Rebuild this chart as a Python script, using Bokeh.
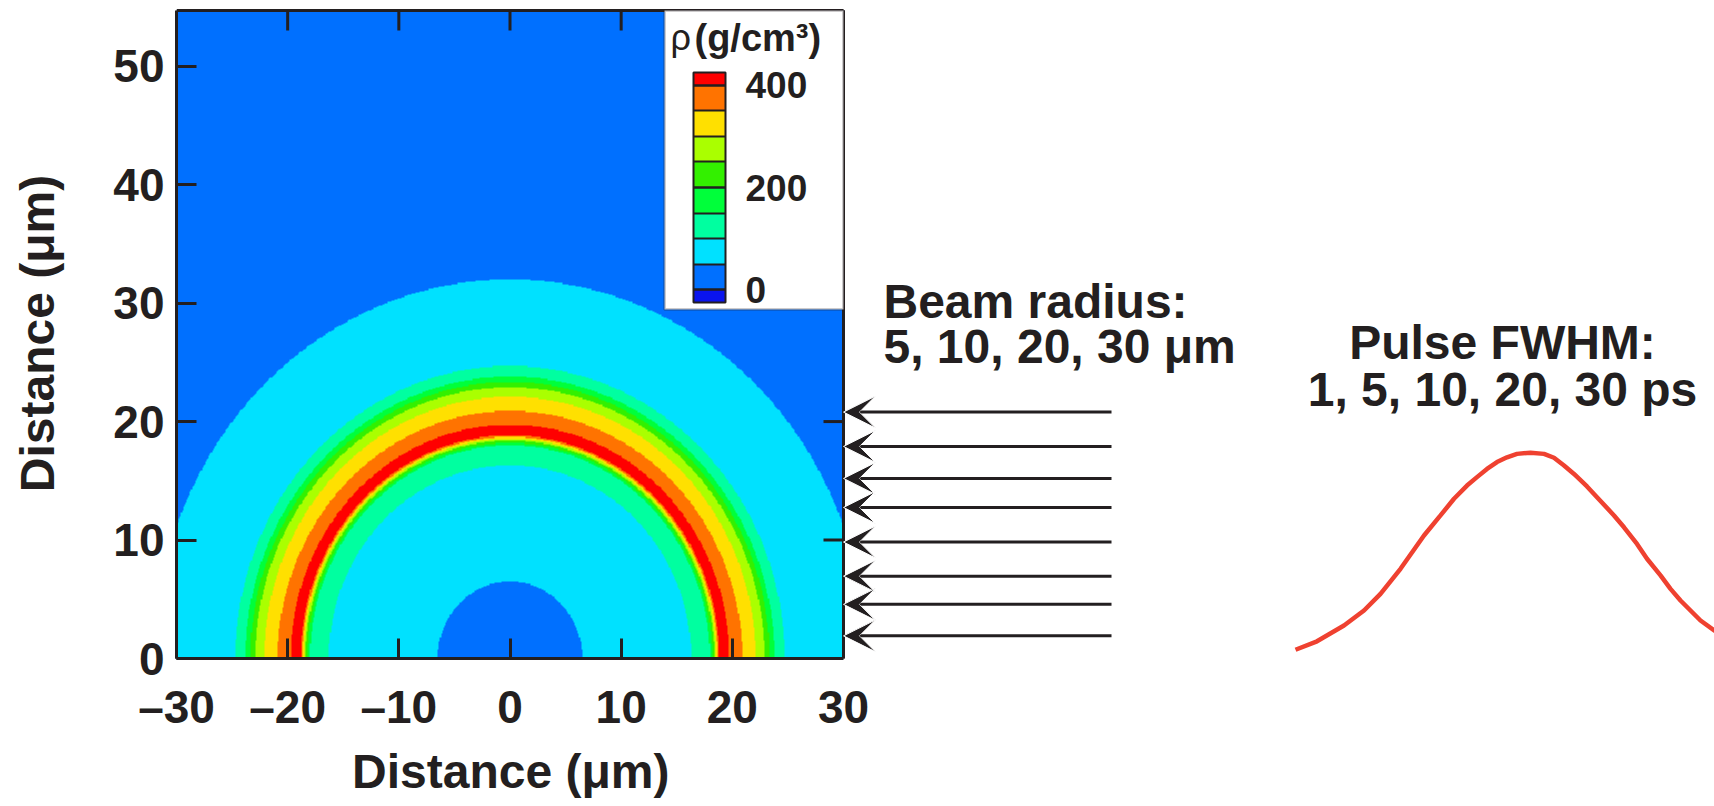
import numpy as np
from bokeh.plotting import figure
from bokeh.models import (Range1d, LinearColorMapper, ColorBar, FixedTicker, Title,
                          BoxAnnotation, Label, Arrow, VeeHead, ColumnDataSource)
from bokeh.embed import file_html
from bokeh.resources import INLINE

# ------------------------------------------------------------------ data
x_ticks = [-30, -20, -10, 0, 10, 20, 30]
x_tick_labels = ["–30", "–20", "–10", "0", "10", "20", "30"]
y_ticks = [0, 10, 20, 30, 40, 50]

# radial density profile (outer radius of each band in µm, density in g/cm3)
ring_outer_radius = [6.5, 16.3, 18.0, 18.2, 18.4, 18.55, 18.7, 18.85, 19.75,
                     20.9, 22.1, 22.9, 23.35, 23.8, 24.7, 32.0]
ring_density = [25, 75, 125, 175, 225, 275, 325, 375, 425,
                375, 325, 275, 225, 175, 125, 75]
outside_density = 25

density_colors = ["#0A14EE", "#0070FF", "#00E1FF", "#00FFA0", "#00FF3A",
                  "#33F000", "#AAFF00", "#FFE000", "#FF7300", "#FF0000"]
density_step = 50
colorbar_ticks = [0, 200, 400]
colorbar_separators = [0, 50, 100, 150, 200, 250, 300, 350, 400]

# heights of the incoming beams (µm)
beam_heights = [20.8, 17.9, 15.2, 12.75, 9.83, 6.95, 4.57, 1.91]

# schematic laser pulse (time, normalised intensity)
pulse_time = [-4.70, -4.27, -3.73, -3.33, -3.00, -2.60, -2.13, -1.80, -1.53, -1.27,
              -1.07, -0.87, -0.67, -0.47, -0.27, 0.0, 0.27, 0.47, 0.67, 0.87,
              1.13, 1.33, 1.67, 1.87, 2.13, 2.33, 2.60, 2.80, 3.00, 3.20,
              3.40, 3.68, 4.20]
pulse_intensity = [0.135, 0.172, 0.241, 0.307, 0.380, 0.490, 0.636, 0.724, 0.797, 0.855,
                   0.892, 0.928, 0.958, 0.979, 0.994, 0.999, 0.994, 0.977, 0.943, 0.906,
                   0.851, 0.804, 0.724, 0.672, 0.599, 0.534, 0.461, 0.402, 0.351, 0.307,
                   0.263, 0.219, 0.171]

# ------------------------------------------------------------------ layout / style
DARK = "#231f20"
FONT = "Liberation Sans"
W, H = 1714, 806
LEFT, TOP, BOTTOM = 176, 8, 148
FRAME_W, FRAME_H = W - LEFT, H - TOP - BOTTOM
X_LO, X_HI, Y_LO, Y_HI = -30, 30, 0, 54.7
PX_X = 667 / (X_HI - X_LO)          # pixels per µm, horizontal
PX_Y = 648 / (Y_HI - Y_LO)          # pixels per µm, vertical
x_view_end = X_LO + FRAME_W / PX_X
y_view_end = Y_LO + FRAME_H / PX_Y

# density field on a grid, built from the radial profile
nx, ny = 600, 547
xc = X_LO + (np.arange(nx) + 0.5) * (X_HI - X_LO) / nx
yc = Y_LO + (np.arange(ny) + 0.5) * (Y_HI - Y_LO) / ny
XX, YY = np.meshgrid(xc, yc)
RR = np.hypot(XX, YY)
lookup = np.array(ring_density + [outside_density], dtype=float)
field = lookup[np.searchsorted(ring_outer_radius, RR)]

mapper = LinearColorMapper(palette=density_colors, low=-density_step,
                           high=density_step * (len(density_colors) - 1))
half = density_step / 2
cb_palette = [density_colors[0]] + [c for c in density_colors[1:-1] for _ in (0, 1)] + [density_colors[-1]]
cb_mapper = LinearColorMapper(palette=cb_palette, low=-half,
                              high=density_step * (len(density_colors) - 2) + half)

# ------------------------------------------------------------------ figure
p = figure(width=W, height=H, x_range=Range1d(X_LO, x_view_end), y_range=Range1d(Y_LO, y_view_end),
           output_backend="svg", toolbar_location=None,
           min_border_left=LEFT, min_border_right=0, min_border_top=TOP, min_border_bottom=BOTTOM,
           background_fill_color="white", border_fill_color="white")
p.grid.visible = False
p.outline_line_color = None

# pulse coordinates (time, normalised intensity) on their own ranges
PULSE_PX_T, PULSE_PX_I = 50, 228
PULSE_X0_PX, PULSE_Y0_PX = 1530 - LEFT, 680 - TOP   # frame position of t=0 / I=0
p.extra_x_ranges = {"pulse_t": Range1d(-PULSE_X0_PX / PULSE_PX_T, (FRAME_W - PULSE_X0_PX) / PULSE_PX_T)}
p.extra_y_ranges = {"pulse_I": Range1d((PULSE_Y0_PX - FRAME_H) / PULSE_PX_I, PULSE_Y0_PX / PULSE_PX_I)}

p.image(image=[field], x=X_LO, y=Y_LO, dw=X_HI - X_LO, dh=Y_HI - Y_LO, color_mapper=mapper)

p.xaxis.ticker = FixedTicker(ticks=x_ticks)
p.xaxis.major_label_overrides = dict(zip(x_ticks, x_tick_labels))
p.xaxis.bounds = (X_LO, X_HI)
p.yaxis.ticker = FixedTicker(ticks=y_ticks)
p.yaxis.bounds = (Y_LO, Y_HI)
p.yaxis.axis_label = "Distance (μm)"

for ax in p.axis:
    ax.axis_line_color = DARK
    ax.axis_line_width = 3
    ax.major_tick_line_color = DARK
    ax.major_tick_line_width = 3
    ax.major_tick_in = 20
    ax.major_tick_out = 0
    ax.minor_tick_line_color = None
    ax.major_label_text_font = FONT
    ax.major_label_text_font_style = "bold"
    ax.major_label_text_font_size = "46px"
    ax.major_label_text_color = DARK
    ax.axis_label_text_font = FONT
    ax.axis_label_text_font_style = "bold"
    ax.axis_label_text_font_size = "48px"
    ax.axis_label_text_color = DARK
p.xaxis[0].major_label_standoff = 22
p.yaxis[0].major_label_standoff = 12
p.yaxis[0].axis_label_standoff = 46

# x-axis title, centred under the plot box (not under the whole frame)
x_title_width = 316
p.add_layout(Title(text="Distance (μm)", align="left",
                   offset=(X_HI - X_LO) / 2 * PX_X - x_title_width / 2,
                   text_font=FONT, text_font_style="bold", text_font_size="48px",
                   text_color=DARK, standoff=15), "below")

# top and right edges of the plot box, with mirrored inward ticks
p.segment(x0=[X_LO, X_HI], y0=[Y_HI, Y_LO], x1=[X_HI, X_HI], y1=[Y_HI, Y_HI],
          line_color=DARK, line_width=3)
tick_len_x = 20 / PX_X
tick_len_y = 20 / PX_Y
p.segment(x0=x_ticks, y0=[Y_HI] * len(x_ticks), x1=x_ticks, y1=[Y_HI - tick_len_y] * len(x_ticks),
          line_color=DARK, line_width=3)
p.segment(x0=[X_HI] * len(y_ticks), y0=y_ticks, x1=[X_HI - tick_len_x] * len(y_ticks), y1=y_ticks,
          line_color=DARK, line_width=3)

# legend box with colour bar (screen units, measured from frame bottom-left)
box_top = FRAME_H - 2
p.add_layout(BoxAnnotation(left=488, right=667, bottom=349, top=box_top,
                           left_units="screen", right_units="screen",
                           bottom_units="screen", top_units="screen",
                           fill_color="white", fill_alpha=1.0,
                           line_color=DARK, line_width=2.5))
cb = ColorBar(color_mapper=cb_mapper, orientation="vertical",
              ticker=FixedTicker(ticks=colorbar_ticks, minor_ticks=colorbar_separators),
              width=32, height=230, location=(517, 356), padding=0, margin=0,
              bar_line_color=DARK, bar_line_width=2,
              major_tick_in=32, major_tick_out=0,
              major_tick_line_color=DARK, major_tick_line_width=2,
              minor_tick_in=32, minor_tick_out=0,
              minor_tick_line_color=DARK, minor_tick_line_width=2,
              label_standoff=20,
              major_label_text_font=FONT, major_label_text_font_style="bold",
              major_label_text_font_size="37px", major_label_text_color=DARK,
              background_fill_alpha=0, border_line_color=None)
p.add_layout(cb)
p.add_layout(Label(x=494, y=621, x_units="screen", y_units="screen", text="ρ",
                   text_font=FONT, text_font_size="36px", text_color=DARK,
                   text_baseline="alphabetic"))
p.add_layout(Label(x=518, y=621, x_units="screen", y_units="screen", text="(g/cm³)",
                   text_font=FONT, text_font_style="bold", text_font_size="38px",
                   text_color=DARK, text_baseline="alphabetic"))

# incoming beams
arrow_start = X_HI + 268 / PX_X
src = ColumnDataSource(dict(x0=[arrow_start] * len(beam_heights),
                            x1=[X_HI] * len(beam_heights), y=beam_heights))
p.add_layout(Arrow(source=src, x_start="x0", y_start="y", x_end="x1", y_end="y",
                   line_color=DARK, line_width=3,
                   end=VeeHead(size=32, fill_color=DARK, line_color="white", line_width=1)))
p.add_layout(Label(x=707, y=357, x_units="screen", y_units="screen", text="Beam radius:",
                   text_font=FONT, text_font_style="bold", text_font_size="48px",
                   text_color=DARK, text_baseline="alphabetic"))
p.add_layout(Label(x=707, y=312, x_units="screen", y_units="screen", text="5, 10, 20, 30 μm",
                   text_font=FONT, text_font_style="bold", text_font_size="48px",
                   text_color=DARK, text_baseline="alphabetic"))

# laser pulse
p.line(pulse_time, pulse_intensity, x_range_name="pulse_t", y_range_name="pulse_I",
       line_color="#EF4130", line_width=4.5)
p.add_layout(Label(x=1326, y=316, x_units="screen", y_units="screen", text="Pulse FWHM:",
                   text_font=FONT, text_font_style="bold", text_font_size="48px",
                   text_color=DARK, text_align="center", text_baseline="alphabetic"))
p.add_layout(Label(x=1326, y=269, x_units="screen", y_units="screen", text="1, 5, 10, 20, 30 ps",
                   text_font=FONT, text_font_style="bold", text_font_size="48px",
                   text_color=DARK, text_align="center", text_baseline="alphabetic"))

open("out.html", "w").write(file_html(p, INLINE))
